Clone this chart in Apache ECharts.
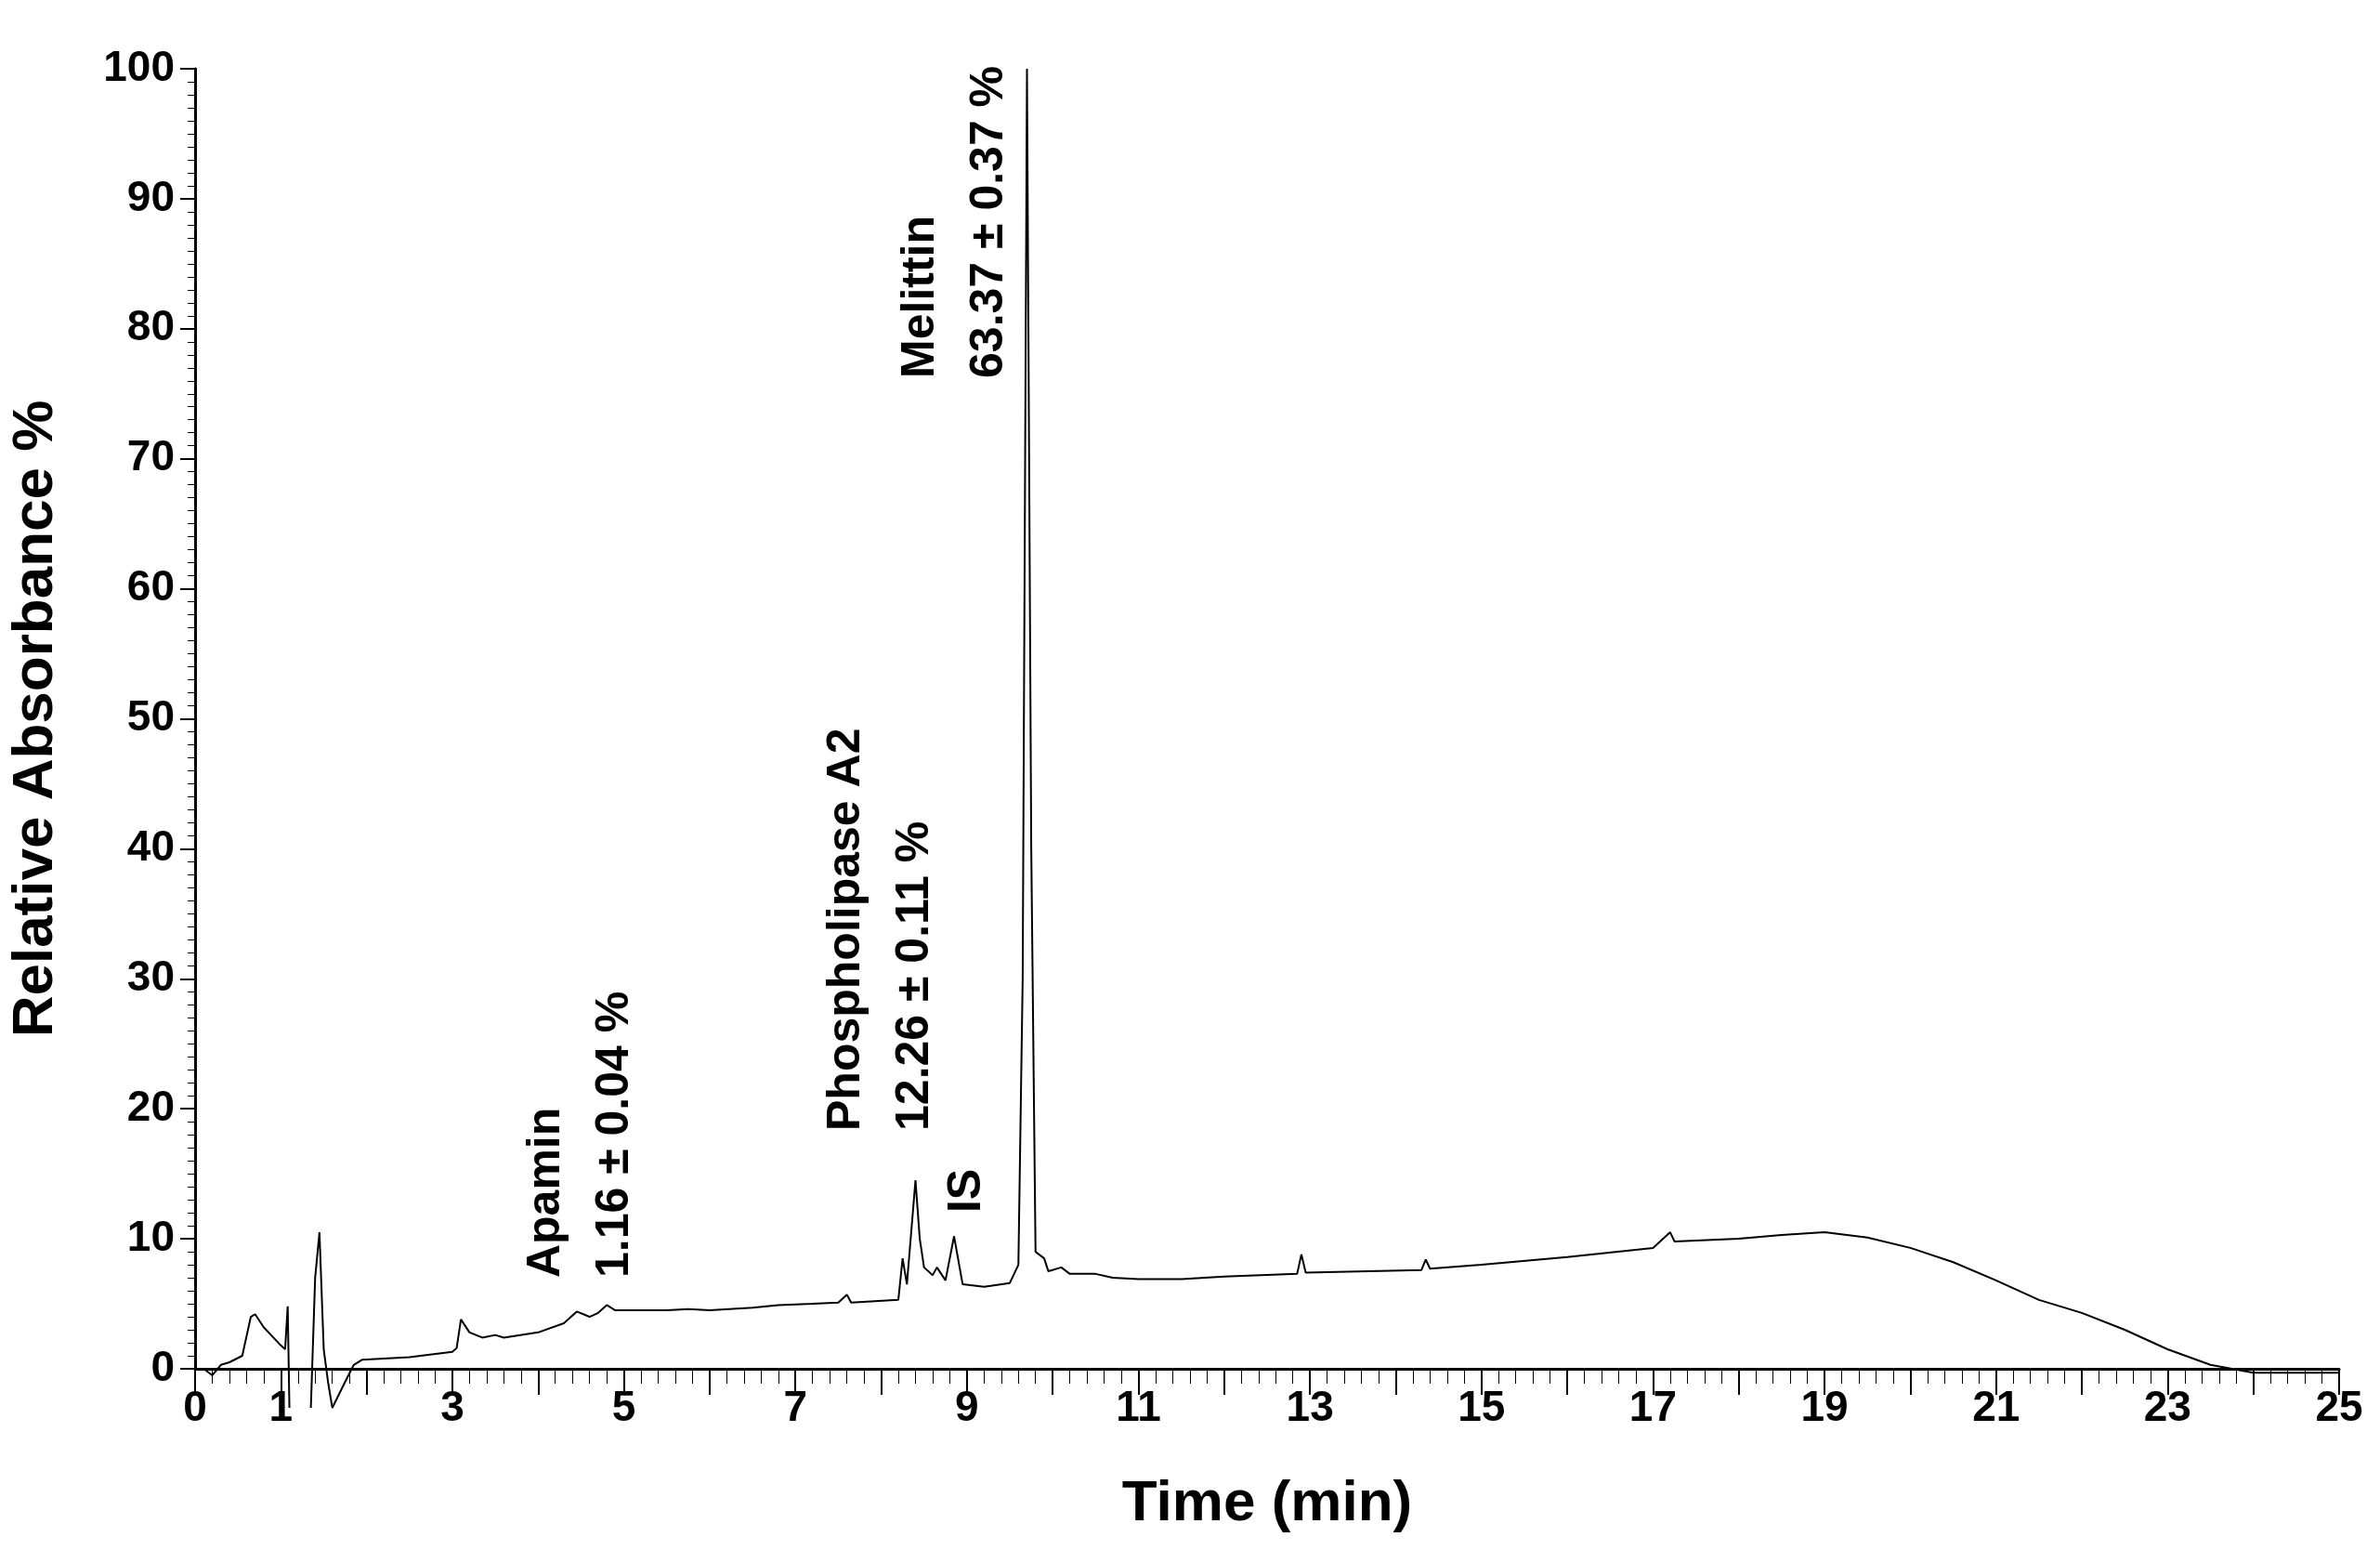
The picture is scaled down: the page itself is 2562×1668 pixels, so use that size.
<!DOCTYPE html>
<html><head><meta charset="utf-8">
<script src="https://cdn.jsdelivr.net/npm/echarts@6/dist/echarts.min.js"></script>
<style>html,body{margin:0;background:#fff}#c{width:2562px;height:1668px}</style>
</head><body><div id="c"></div>
<script>
var times = [0,0.1,0.2,0.3,0.4,0.55,0.65,0.7,0.8,1.0,1.05,1.08,1.1,1.2,1.35,1.4,1.45,1.5,1.55,1.6,1.75,1.85,1.95,2.5,3.0,3.05,3.1,3.2,3.35,3.5,3.6,4.0,4.3,4.45,4.6,4.7,4.8,4.9,5.3,5.5,5.75,6.0,6.5,6.8,7.2,7.5,7.6,7.65,8.2,8.25,8.3,8.4,8.45,8.5,8.6,8.65,8.75,8.85,8.95,9.2,9.5,9.6,9.65,9.7,9.75,9.8,9.9,9.95,10.1,10.2,10.5,10.7,11.0,11.5,12,12.85,12.9,12.95,14.3,14.35,14.4,15,16,17,17.2,17.25,18,18.5,19,19.5,20,20.5,21,21.5,22,22.5,23,23.5,24,25];
var absorb = [0,0,-0.5,0.3,0.5,1,4.0,4.2,3.2,1.8,1.5,4.8,-3,null,-3,7,10.5,1.5,-1,-3,-1,0.3,0.7,0.9,1.3,1.6,3.8,2.8,2.4,2.6,2.4,2.8,3.5,4.4,4.0,4.3,4.9,4.5,4.5,4.5,4.6,4.5,4.7,4.9,5.0,5.1,5.7,5.1,5.3,8.5,6.5,14.5,10,7.8,7.2,7.8,6.8,10.2,6.5,6.3,6.6,8,30,100,40,9,8.5,7.5,7.8,7.3,7.3,7.0,6.9,6.9,7.1,7.3,8.8,7.4,7.6,8.4,7.7,8.0,8.6,9.3,10.5,9.8,10.0,10.3,10.5,10.1,9.3,8.2,6.8,5.3,4.3,3.0,1.5,0.3,-0.3,-0.3];
var xLabels = [0,1,3,5,7,9,11,13,15,17,19,21,23,25];
var peakNames = ['Apamin\n1.16 ± 0.04 %', 'Phospholipase A2\n12.26 ± 0.11 %', 'IS', 'Melittin\n63.37 ± 0.37 %'];
var peakPos = [[4.5, 7], [8.0, 18.3], [9.0, 12], [8.86, 76.2]];

var font = 'Liberation Sans';
var chart = echarts.init(document.getElementById('c'));
var pts = times.map(function (t, i) { return [t, absorb[i]]; });
chart.setOption({
    animation: false,
    grid: {left: 195, right: 44, top: 74, bottom: 195},
    xAxis: {
        type: 'value', min: 0, max: 25, interval: 1,
        name: 'Time (min)', nameLocation: 'middle', nameGap: 115,
        nameTextStyle: {fontFamily: font, fontWeight: 'bold', fontSize: 62, color: '#000'},
        axisLine: {onZero: false, lineStyle: {color: '#000', width: 3}},
        axisTick: {length: 28, lineStyle: {color: '#000', width: 2}},
        minorTick: {show: true, splitNumber: 5, length: 16, lineStyle: {color: '#000'}},
        splitLine: {show: false},
        axisLabel: {
            fontFamily: font, fontWeight: 'bold', fontSize: 46, color: '#000', margin: 20,
            formatter: function (v) { return xLabels.indexOf(v) >= 0 ? String(v) : ''; }
        }
    },
    yAxis: {
        type: 'value', min: 0, max: 100, interval: 10,
        name: 'Relative Absorbance %', nameLocation: 'middle', nameGap: 140,
        nameTextStyle: {fontFamily: font, fontWeight: 'bold', fontSize: 62, color: '#000'},
        axisLine: {lineStyle: {color: '#000', width: 3}},
        axisTick: {length: 16, lineStyle: {color: '#000', width: 2}},
        minorTick: {show: true, splitNumber: 10, length: 8, lineStyle: {color: '#000'}},
        splitLine: {show: false},
        axisLabel: {fontFamily: font, fontWeight: 'bold', fontSize: 46, color: '#000', margin: 22}
    },
    series: [{
        type: 'line',
        data: pts,
        showSymbol: false,
        clip: false,
        lineStyle: {color: '#000', width: 2},
        markPoint: {
            symbol: 'circle',
            symbolSize: 1,
            itemStyle: {color: 'rgba(0,0,0,0)'},
            label: {
                show: true, position: 'inside', rotate: 90, align: 'left', verticalAlign: 'middle',
                fontFamily: font, fontWeight: 'bold', fontSize: 50, lineHeight: 74, color: '#000',
                formatter: function (p) { return p.name; }
            },
            data: peakNames.map(function (n, i) { return {name: n, coord: peakPos[i]}; })
        }
    }]
});
</script></body></html>
